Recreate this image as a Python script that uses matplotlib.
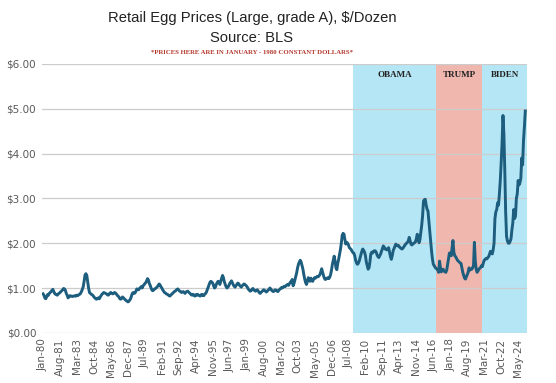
import matplotlib
matplotlib.use("Agg")
import matplotlib.pyplot as plt
import pandas as pd

# monthly egg prices, Jan-1980 .. Jan-2025 (1980 dollars)
p1980 = [0.87, 0.84, 0.78, 0.76, 0.80, 0.85, 0.84, 0.88, 0.90, 0.92, 0.95, 0.97]
p1981 = [0.92, 0.88, 0.86, 0.85, 0.84, 0.87, 0.88, 0.90, 0.92, 0.94, 0.96, 0.99]
p1982 = [0.98, 0.95, 0.88, 0.84, 0.78, 0.80, 0.83, 0.82, 0.82, 0.81, 0.82, 0.82]
p1983 = [0.83, 0.82, 0.84, 0.83, 0.85, 0.86, 0.88, 0.92, 0.97, 1.03, 1.15, 1.29]
p1984 = [1.32, 1.28, 1.14, 1.00, 0.90, 0.88, 0.86, 0.85, 0.83, 0.80, 0.78, 0.76]
p1985 = [0.75, 0.77, 0.78, 0.76, 0.80, 0.83, 0.86, 0.88, 0.90, 0.89, 0.88, 0.87]
p1986 = [0.85, 0.84, 0.86, 0.89, 0.90, 0.88, 0.87, 0.88, 0.90, 0.89, 0.87, 0.84]
p1987 = [0.82, 0.80, 0.76, 0.75, 0.77, 0.80, 0.78, 0.76, 0.74, 0.72, 0.71, 0.69]
p1988 = [0.70, 0.73, 0.76, 0.82, 0.88, 0.90, 0.88, 0.89, 0.93, 0.98, 0.97, 0.96]
p1989 = [0.99, 1.01, 1.03, 1.00, 1.05, 1.07, 1.10, 1.12, 1.16, 1.21, 1.18, 1.10]
p1990 = [1.06, 1.00, 0.95, 0.94, 0.96, 0.98, 0.99, 1.01, 1.03, 1.06, 1.09, 1.07]
p1991 = [1.03, 1.00, 0.96, 0.93, 0.90, 0.89, 0.87, 0.86, 0.85, 0.83, 0.82, 0.84]
p1992 = [0.86, 0.88, 0.90, 0.92, 0.93, 0.95, 0.97, 0.98, 0.95, 0.93, 0.92, 0.90]
p1993 = [0.91, 0.92, 0.90, 0.88, 0.91, 0.92, 0.93, 0.91, 0.89, 0.87, 0.85, 0.84]
p1994 = [0.86, 0.84, 0.82, 0.85, 0.84, 0.86, 0.84, 0.83, 0.82, 0.85, 0.86, 0.83]
p1995 = [0.83, 0.86, 0.88, 0.91, 0.97, 1.02, 1.08, 1.13, 1.15, 1.13, 1.11, 1.05]
p1996 = [1.00, 1.02, 1.08, 1.12, 1.15, 1.13, 1.08, 1.15, 1.22, 1.28, 1.23, 1.14]
p1997 = [1.08, 1.03, 1.00, 1.02, 1.05, 1.10, 1.13, 1.16, 1.12, 1.07, 1.04, 1.02]
p1998 = [1.05, 1.08, 1.11, 1.10, 1.06, 1.04, 1.02, 1.05, 1.07, 1.09, 1.08, 1.06]
p1999 = [1.04, 1.01, 0.97, 0.95, 0.93, 0.94, 0.97, 0.99, 0.96, 0.94, 0.93, 0.95]
p2000 = [0.96, 0.93, 0.90, 0.88, 0.90, 0.92, 0.94, 0.96, 0.95, 0.93, 0.91, 0.93]
p2001 = [0.95, 0.97, 1.00, 0.98, 0.95, 0.93, 0.92, 0.94, 0.96, 0.95, 0.93, 0.92]
p2002 = [0.95, 0.97, 0.99, 1.01, 1.00, 1.02, 1.04, 1.03, 1.05, 1.07, 1.08, 1.06]
p2003 = [1.10, 1.13, 1.15, 1.19, 1.05, 1.10, 1.18, 1.25, 1.34, 1.45, 1.53, 1.58]
p2004 = [1.62, 1.58, 1.50, 1.42, 1.30, 1.20, 1.12, 1.08, 1.15, 1.23, 1.18, 1.15]
p2005 = [1.22, 1.16, 1.15, 1.20, 1.23, 1.22, 1.24, 1.26, 1.25, 1.27, 1.30, 1.36]
p2006 = [1.43, 1.35, 1.28, 1.22, 1.19, 1.20, 1.22, 1.23, 1.21, 1.24, 1.30, 1.40]
p2007 = [1.53, 1.62, 1.71, 1.60, 1.45, 1.41, 1.55, 1.64, 1.75, 1.86, 2.00, 2.18]
p2008 = [2.22, 2.20, 2.08, 1.98, 2.02, 2.00, 1.96, 1.90, 1.88, 1.86, 1.82, 1.79]
p2009 = [1.78, 1.72, 1.62, 1.56, 1.53, 1.55, 1.60, 1.68, 1.75, 1.82, 1.87, 1.84]
p2010 = [1.80, 1.72, 1.58, 1.50, 1.42, 1.45, 1.58, 1.76, 1.80, 1.78, 1.82, 1.83]
p2011 = [1.83, 1.80, 1.74, 1.70, 1.68, 1.72, 1.76, 1.82, 1.88, 1.94, 1.91, 1.87]
p2012 = [1.87, 1.85, 1.88, 1.90, 1.80, 1.70, 1.64, 1.72, 1.83, 1.88, 1.93, 1.98]
p2013 = [1.96, 1.94, 1.95, 1.92, 1.90, 1.88, 1.87, 1.89, 1.92, 1.95, 1.98, 2.00]
p2014 = [2.02, 2.05, 2.13, 2.05, 1.98, 1.96, 1.98, 2.00, 2.01, 2.03, 2.10, 2.20]
p2015 = [2.10, 2.01, 2.08, 2.24, 2.40, 2.61, 2.94, 2.97, 2.98, 2.85, 2.76, 2.72]
p2016 = [2.50, 2.27, 2.05, 1.83, 1.65, 1.53, 1.50, 1.46, 1.44, 1.42, 1.40, 1.35]
p2017 = [1.60, 1.45, 1.36, 1.40, 1.42, 1.38, 1.36, 1.35, 1.40, 1.52, 1.65, 1.78]
p2018 = [1.78, 1.72, 1.90, 2.06, 1.80, 1.72, 1.70, 1.66, 1.62, 1.60, 1.58, 1.56]
p2019 = [1.55, 1.45, 1.35, 1.28, 1.22, 1.20, 1.25, 1.30, 1.35, 1.45, 1.40, 1.42]
p2020 = [1.42, 1.45, 1.50, 2.02, 1.60, 1.42, 1.35, 1.38, 1.42, 1.44, 1.46, 1.50]
p2021 = [1.48, 1.56, 1.62, 1.64, 1.66, 1.65, 1.68, 1.70, 1.76, 1.82, 1.78, 1.76]
p2022 = [1.85, 2.00, 2.55, 2.70, 2.75, 2.90, 2.85, 3.10, 3.40, 3.80, 4.25, 4.85]
p2023 = [4.45, 3.65, 2.70, 2.15, 2.05, 2.00, 2.00, 2.04, 2.10, 2.30, 2.45, 2.75]
p2024 = [2.55, 2.60, 3.00, 3.10, 3.40, 3.30, 3.35, 3.45, 3.90, 3.75, 4.30, 4.60]
p2025 = [4.95]

prices = (p1980 + p1981 + p1982 + p1983 + p1984 + p1985 + p1986 + p1987 + p1988
          + p1989 + p1990 + p1991 + p1992 + p1993 + p1994 + p1995 + p1996 + p1997
          + p1998 + p1999 + p2000 + p2001 + p2002 + p2003 + p2004 + p2005 + p2006
          + p2007 + p2008 + p2009 + p2010 + p2011 + p2012 + p2013 + p2014 + p2015
          + p2016 + p2017 + p2018 + p2019 + p2020 + p2021 + p2022 + p2023 + p2024
          + p2025)

months = pd.date_range("1980-01-01", periods=len(prices), freq="MS").strftime("%b-%y").tolist()

presidents = ["OBAMA", "TRUMP", "BIDEN"]
term_start = ["Jan-09", "Oct-16", "Jan-21"]
term_colors = ["#b5e6f5", "#efb7ae", "#b5e6f5"]

fig = plt.figure(figsize=(5.56, 3.83), dpi=100)
ax = fig.add_axes([0.075, 0.131, 0.873, 0.702])

x = range(len(prices))
xmax = len(prices) + 1
starts = [months.index(s) - 0.5 for s in term_start]
ends = starts[1:] + [xmax]
for name, s, e, c in zip(presidents, starts, ends, term_colors):
    ax.axvspan(s, e, color=c, lw=0, zorder=0)
    ax.text((s + e) / 2, 5.75, name, ha="center", va="center", fontsize=6.5,
            fontweight="bold", family="Liberation Serif", color="#222222", zorder=4)

ax.plot(x, prices, color="#1d5d7e", lw=2.1, zorder=3, solid_joinstyle="round")

ax.set_xlim(-1.5, xmax)
ax.set_ylim(0, 6)
ax.set_yticks([0, 1, 2, 3, 4, 5, 6])
ax.set_yticklabels(["$%.2f" % v for v in range(7)])
ticks = list(range(0, len(prices), 19))
ax.set_xticks(ticks)
ax.set_xticklabels([months[i] for i in ticks], rotation=90)
ax.tick_params(axis="both", length=0, labelsize=7.5, labelcolor="#595959", pad=4)
ax.grid(axis="y", color="#cccccc", lw=0.9, zorder=1)
for sp in ax.spines.values():
    sp.set_visible(False)

fig.text(0.453, 0.953, "Retail Egg Prices (Large, grade A), $/Dozen", ha="center",
         va="center", fontsize=10.6, color="#222222", family="Liberation Sans")
fig.text(0.453, 0.900, "Source: BLS", ha="center", va="center", fontsize=10.6,
         color="#222222", family="Liberation Sans")
fig.text(0.453, 0.864, "*PRICES HERE ARE IN JANUARY - 1980 CONSTANT DOLLARS*",
         ha="center", va="center", fontsize=4.9, color="#b5362c",
         family="Liberation Serif", fontweight="bold")

fig.savefig("out.png", dpi=100)
